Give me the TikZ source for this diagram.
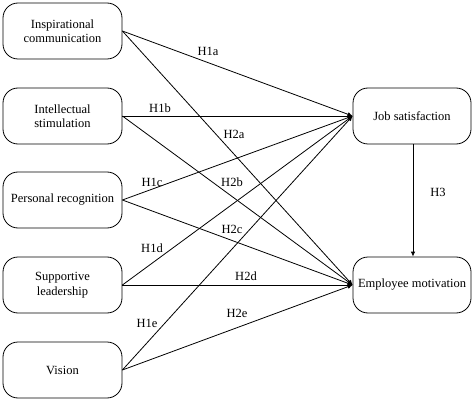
\documentclass[tikz,border=0pt]{standalone}
\usepackage{fontspec}
\setmainfont{Liberation Serif}
\usetikzlibrary{arrows.meta}

\tikzset{
	factor/.style = {draw, rounded corners=15pt, line width=0.8pt, minimum width=119pt,
		minimum height=56pt, align=center, inner sep=2pt},
	path/.style = {line width=0.8pt, -{Latex[length=5pt,width=4.5pt]}},
	hyp/.style = {inner sep=1pt}
}

\begin{document}
\begin{tikzpicture}[x=1pt,y=-1pt,font=\fontsize{12.5}{14.5}\selectfont]
		\useasboundingbox (0,0) rectangle (474,401);
		
		\node[factor] (insp) at (62.5,31) {Inspirational\\communication};
		\node[factor] (intel) at (62.5,116) {Intellectual\\stimulation};
		\node[factor] (recog) at (62.5,200) {Personal recognition};
		\node[factor] (supp) at (62.5,285) {Supportive\\leadership};
		\node[factor] (vision) at (62.5,370) {Vision};
		
		\node[factor, minimum width=118pt] (jobsat) at (412,116) {Job satisfaction};
		\node[factor, minimum width=118pt] (empmot) at (412,285) {Employee motivation};
		
		\draw[path] (insp.east) -- (jobsat.west);
		\draw[path] (intel.east) -- (jobsat.west);
		\draw[path] (recog.east) -- (jobsat.west);
		\draw[path] (supp.east) -- (jobsat.west);
		\draw[path] (vision.east) -- (jobsat.west);
		
		\draw[path] (insp.east) -- (empmot.west);
		\draw[path] (intel.east) -- (empmot.west);
		\draw[path] (recog.east) -- (empmot.west);
		\draw[path] (supp.east) -- (empmot.west);
		\draw[path] (vision.east) -- (empmot.west);
		
		\draw[path] ([xshift=1pt]jobsat.south) -- ([xshift=1pt]empmot.north);
		
		\node[hyp] (h1a) at (208,51) {H1a};
		\node[hyp] (h1b) at (160,108) {H1b};
		\node[hyp] (h1c) at (152,182) {H1c};
		\node[hyp] (h1d) at (152,248) {H1d};
		\node[hyp] (h1e) at (147,323) {H1e};
		
		\node[hyp] (h2a) at (234,134) {H2a};
		\node[hyp] (h2b) at (232,182) {H2b};
		\node[hyp] (h2c) at (232,229) {H2c};
		\node[hyp] (h2d) at (246,276) {H2d};
		\node[hyp] (h2e) at (237,313) {H2e};
		
		\node[hyp] (h3) at (438,192) {H3};
		
	\end{tikzpicture}
\end{document}
